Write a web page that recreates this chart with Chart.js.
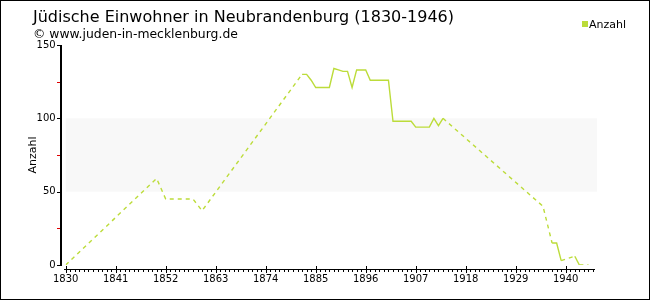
<!DOCTYPE html>
<html>
<head>
<meta charset="utf-8">
<script src="https://cdn.jsdelivr.net/npm/chart.js@4/dist/chart.umd.min.js"></script>
<style>
html,body{margin:0;padding:0;background:#fff;}
canvas{display:block;}
</style>
</head>
<body>
<canvas id="c" width="650" height="300"></canvas>
<script>
const titleText = "Jüdische Einwohner in Neubrandenburg (1830-1946)";
const subtitleText = "© www.juden-in-mecklenburg.de";
const seriesName = "Anzahl";
const yTitle = "Anzahl";
const years = [1830, 1850, 1852, 1858, 1860, 1882, 1883, 1884, 1885, 1886, 1887, 1888, 1889, 1890, 1891, 1892, 1893, 1894, 1895, 1896, 1897, 1898, 1899, 1900, 1901, 1902, 1903, 1904, 1905, 1906, 1907, 1908, 1909, 1910, 1911, 1912, 1913, 1935, 1937, 1938, 1939, 1942, 1943, 1945];
const values = [0, 59, 45, 45, 37, 130, 130, 126, 121, 121, 121, 121, 134, 133, 132, 132, 121, 133, 133, 133, 126, 126, 126, 126, 126, 98, 98, 98, 98, 98, 94, 94, 94, 94, 100, 95, 100, 40, 15, 15, 3, 6, 0, 0];
const xTickLabels = [1830, 1841, 1852, 1863, 1874, 1885, 1896, 1907, 1918, 1929, 1940];
const xMin = 1830, xMax = 1946;
const yTicks = [0, 50, 100, 150];
const yMinorTicks = [25, 75, 125];
const bandRange = [50, 100];

const FONT = "'DejaVu Sans', Verdana, sans-serif";
const lineColor = "#bcdc3a";

const decor = {
  id: 'decor',
  beforeDraw(chart) {
    const ctx = chart.ctx;
    ctx.save();
    ctx.fillStyle = '#fff';
    ctx.fillRect(0, 0, chart.width, chart.height);
    const y = chart.scales.y, a = chart.chartArea;
    ctx.fillStyle = '#f8f8f8';
    const yb1 = y.getPixelForValue(bandRange[1]), yb0 = y.getPixelForValue(bandRange[0]);
    ctx.fillRect(a.left, yb1, a.right - a.left + 4, yb0 - yb1);
    ctx.restore();
  },
  afterDraw(chart) {
    const ctx = chart.ctx;
    const y = chart.scales.y, x = chart.scales.x, a = chart.chartArea;
    ctx.save();
    ctx.setLineDash([]);
    ctx.fillStyle = '#000';
    // frame
    ctx.fillRect(0, 0, chart.width, 1);
    ctx.fillRect(0, chart.height - 1, chart.width, 1);
    ctx.fillRect(0, 0, 1, chart.height);
    ctx.fillRect(chart.width - 1, 0, 1, chart.height);
    // y axis
    const ax = 60;
    const yTop = Math.round(y.getPixelForValue(150));
    const yBot = Math.round(y.getPixelForValue(0));
    ctx.fillRect(ax, yTop, 2, yBot - yTop + 1);
    yTicks.forEach(v => {
      const py = Math.round(y.getPixelForValue(v));
      ctx.fillRect(ax - 3, py, 3, 1);
    });
    ctx.fillStyle = '#e00000';
    yMinorTicks.forEach(v => {
      const py = Math.round(y.getPixelForValue(v));
      ctx.fillRect(ax - 3, py, 3, 1);
    });
    // x axis
    ctx.fillStyle = '#000';
    const ay = Math.round(a.bottom + 4);
    ctx.fillRect(Math.round(a.left - 2), ay, Math.round(a.right - a.left + 4), 1);
    for (let yr = xMin; yr <= xMax; yr++) {
      const px = Math.round(x.getPixelForValue(yr));
      if (xTickLabels.includes(yr)) {
        ctx.fillRect(px, ay - 3, 1, 7);
      } else {
        ctx.fillRect(px, ay, 1, 3);
      }
    }
    // texts
    ctx.textBaseline = 'alphabetic';
    ctx.textAlign = 'left';
    ctx.font = "16px " + FONT;
    ctx.fillText(titleText, 33, 22);
    ctx.font = "12.4px " + FONT;
    ctx.fillText(subtitleText, 33, 38);
    // legend
    ctx.fillStyle = lineColor;
    ctx.fillRect(582, 21, 6, 6);
    ctx.fillStyle = '#000';
    ctx.font = "11px " + FONT;
    ctx.textBaseline = 'middle';
    ctx.fillText(seriesName, 589, 25);
    // y title
    ctx.save();
    ctx.translate(33, (a.top + a.bottom) / 2);
    ctx.rotate(-Math.PI / 2);
    ctx.textAlign = 'center';
    ctx.textBaseline = 'middle';
    ctx.font = "11px " + FONT;
    ctx.fillText(yTitle, 0, 0);
    ctx.restore();
    ctx.restore();
  }
};

new Chart(document.getElementById('c'), {
  type: 'line',
  data: {
    datasets: [{
      label: seriesName,
      data: years.map((yr, i) => ({x: yr, y: values[i]})),
      borderColor: lineColor,
      backgroundColor: lineColor,
      borderWidth: 1.4,
      pointRadius: 0,
      tension: 0,
      segment: {
        borderDash: c => (c.p1.parsed.x - c.p0.parsed.x > 1 ? [4, 4] : undefined)
      }
    }]
  },
  options: {
    responsive: false,
    animation: false,
    layout: {padding: {top: 45, right: 57, left: 0, bottom: 0}},
    plugins: {legend: {display: false}, title: {display: false}, tooltip: {enabled: false}},
    scales: {
      x: {
        type: 'linear', min: xMin, max: xMax,
        grid: {display: false, drawTicks: false}, border: {display: false},
        afterFit: s => { s.height = 35; },
        afterBuildTicks: s => { s.ticks = xTickLabels.map(v => ({value: v})); },
        ticks: {autoSkip: false, maxRotation: 0,
          padding: 8, color: '#000', font: {family: FONT, size: 10},
          callback: v => String(v)}
      },
      y: {
        min: 0, max: 150,
        grid: {display: false, drawTicks: false}, border: {display: false},
        afterFit: s => { s.width = 65.7; },
        afterBuildTicks: s => { s.ticks = yTicks.map(v => ({value: v})); },
        ticks: {padding: 10, color: '#000', font: {family: FONT, size: 10},
          callback: v => String(v)}
      }
    }
  },
  plugins: [decor]
});
</script>
</body>
</html>
